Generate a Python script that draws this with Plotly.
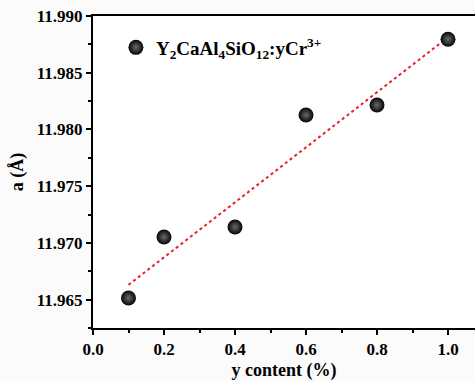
import numpy as np
import plotly.graph_objects as go

# Cr3+ content and refined lattice parameter
y_content = [0.1, 0.2, 0.4, 0.6, 0.8, 1.0]
lattice_a = [11.96515, 11.97052, 11.97140, 11.98127, 11.98215, 11.98795]

x_ticks = [0.0, 0.2, 0.4, 0.6, 0.8, 1.0]
x_tick_labels = ["0.0", "0.2", "0.4", "0.6", "0.8", "1.0"]
y_ticks = [11.965, 11.970, 11.975, 11.980, 11.985, 11.990]
y_tick_labels = ["11.965", "11.970", "11.975", "11.980", "11.985", "11.990"]

series_name = "Y<sub>2</sub>CaAl<sub>4</sub>SiO<sub>12</sub>:yCr<sup>3+</sup>"

# linear fit through the measured points
slope, intercept = np.polyfit(y_content, lattice_a, 1)
fit_x = [y_content[0], y_content[-1]]
fit_y = [slope * v + intercept for v in fit_x]

FONT = "Liberation Serif"

fig = go.Figure()
fig.add_trace(go.Scatter(
    x=fit_x, y=fit_y, mode="lines",
    line=dict(color="#e8202a", width=2, dash="dot"),
    showlegend=False, hoverinfo="skip",
))
fig.add_trace(go.Scatter(
    x=y_content, y=lattice_a, mode="markers",
    name="<b>" + series_name + "</b>",
    marker=dict(size=15, color="#050505",
                gradient=dict(type="radial", color="#6a6a6a"),
                line=dict(width=0)),
))

axis_common = dict(
    showgrid=False, zeroline=False, showline=True, linecolor="black",
    linewidth=2, ticks="outside", ticklen=5, tickwidth=2, tickcolor="black",
    tickfont=dict(family=FONT, size=17, color="black"),
)

fig.update_xaxes(
    **axis_common,
    range=[0, 1.076], tickvals=x_ticks,
    ticktext=[f"<b>{t}</b>" for t in x_tick_labels],
    mirror=True,
    minor=dict(ticks="outside", dtick=0.1, tick0=0, ticklen=3, tickwidth=2,
               tickcolor="black"),
    title=dict(text="<b>y content (%)</b>", font=dict(family=FONT, size=18, color="black"),
               standoff=8),
)
fig.update_yaxes(
    **axis_common,
    range=[11.9625, 11.990], tickvals=y_ticks,
    ticktext=[f"<b>{t}</b>" for t in y_tick_labels],
    minor=dict(ticks="outside", dtick=0.0025, tick0=11.9625, ticklen=3, tickwidth=2,
               tickcolor="black"),
    title=dict(text="<b>a (Å)</b>", font=dict(family=FONT, size=18, color="black"),
               standoff=8),
)

fig.update_layout(
    width=475, height=381,
    margin=dict(l=93, r=0, t=16, b=53),
    paper_bgcolor="#fbfbfb", plot_bgcolor="white",
    font=dict(family=FONT, color="black"),
    legend=dict(x=0.06, y=0.96, xanchor="left", yanchor="top",
                bgcolor="rgba(0,0,0,0)",
                font=dict(family=FONT, size=19, color="black")),
)

fig.write_html("out.html")
